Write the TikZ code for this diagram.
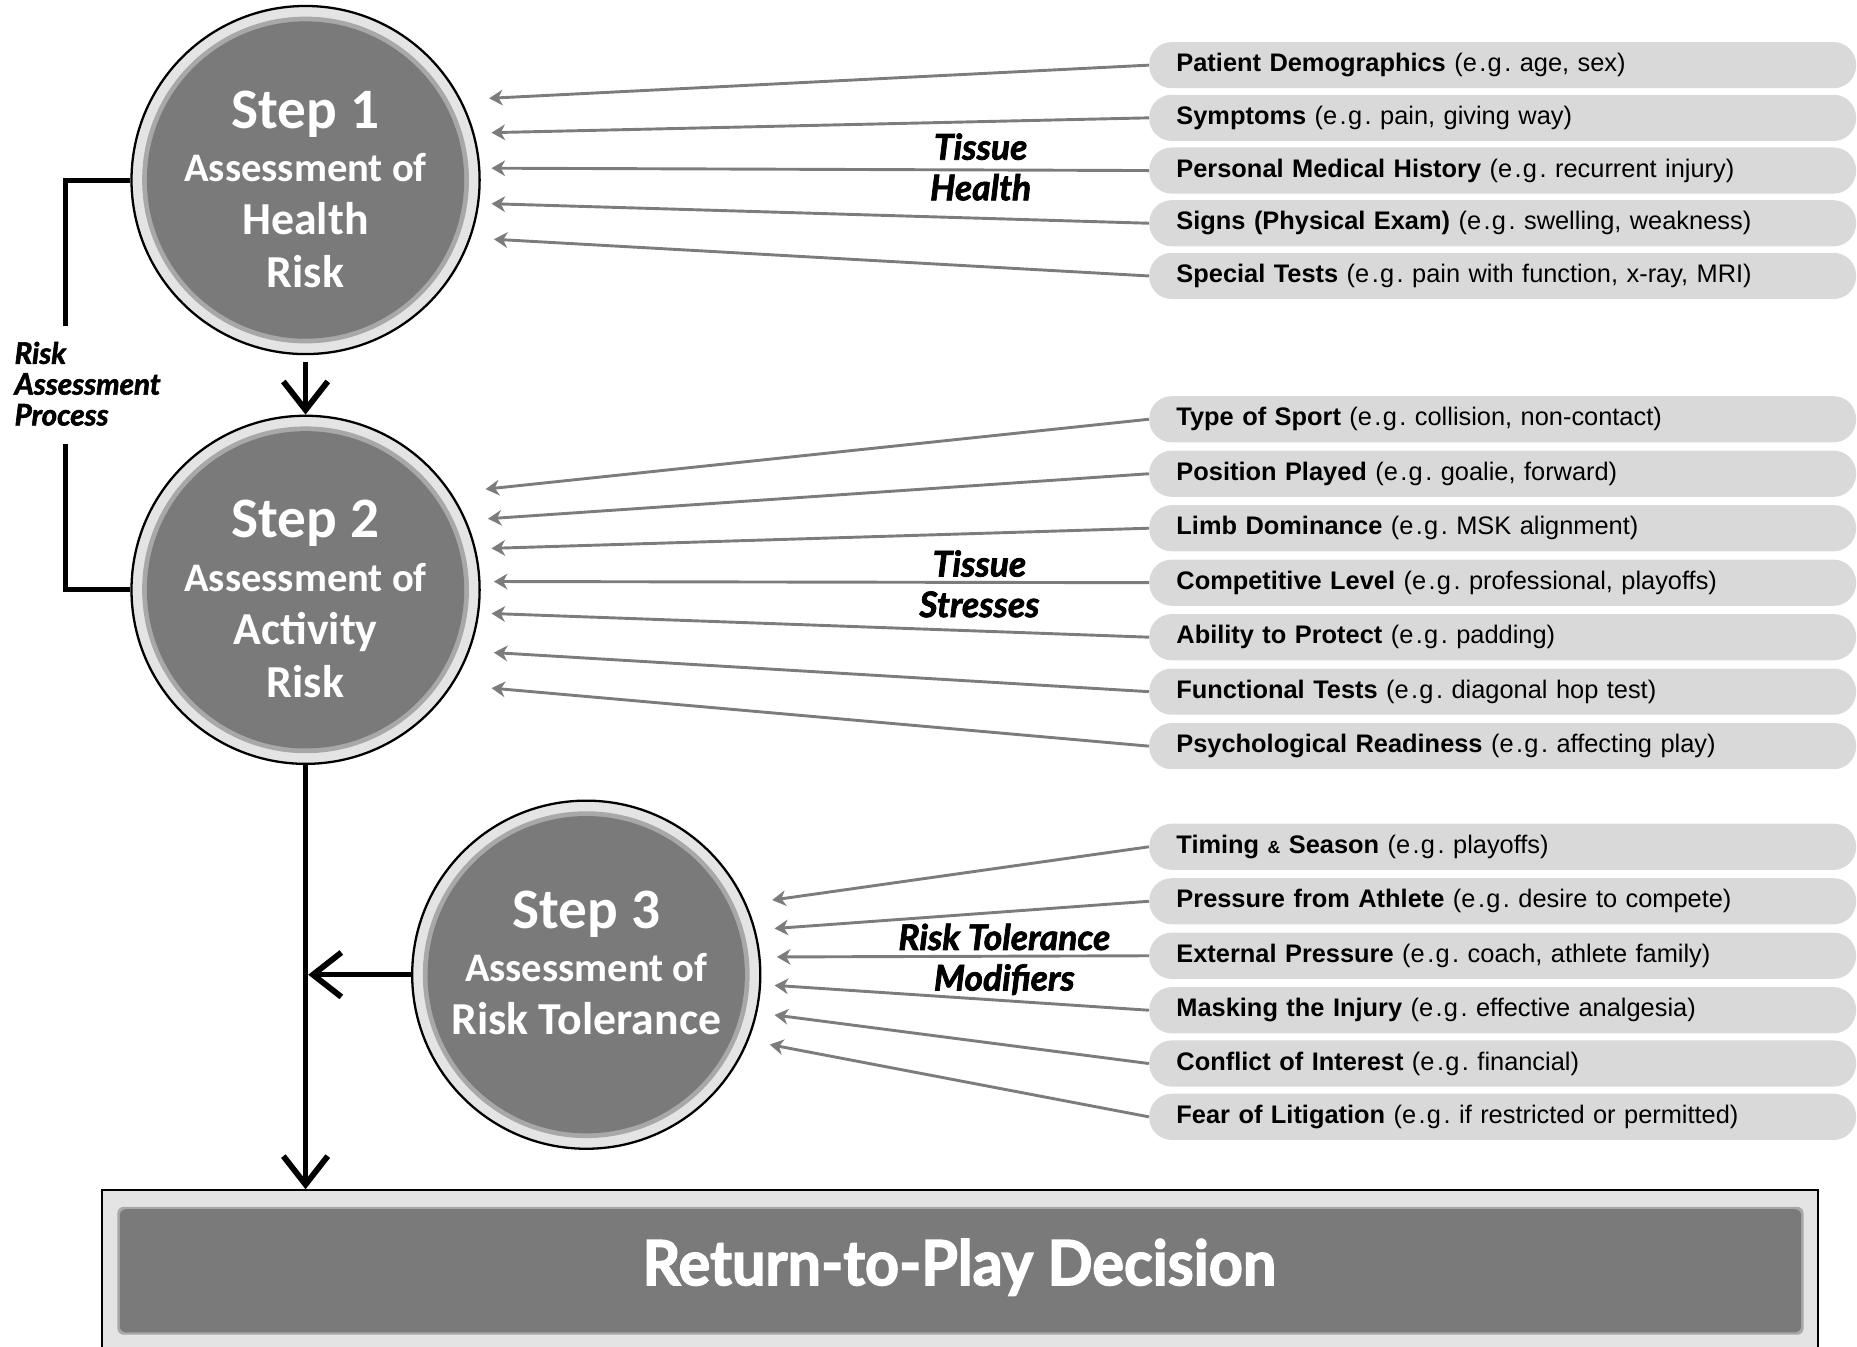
\documentclass[tikz,border=0pt]{standalone}
\usepackage{fontspec}
\setmainfont{Liberation Sans}
\newfontfamily\circfont{Carlito}
\newfontfamily\itemfont{Liberation Sans}
\newfontfamily\tagfont[BoldItalicFeatures={FakeBold=2}]{Lato}
\newfontfamily\rtpfont[FakeStretch=0.95,BoldFeatures={FakeBold=2.2}]{Lato}
\usetikzlibrary{arrows.meta,calc}

\definecolor{stepgray}{HTML}{7A7A7A}
\definecolor{stepedge}{HTML}{A8A8A8}
\definecolor{ringgray}{HTML}{E4E4E4}
\definecolor{boxgray}{HTML}{D9D9D9}
\definecolor{feedgray}{HTML}{7C7C7C}

% spaced "e.g." of the factor lists
\newcommand{\egtext}{e\kern1.2pt.\kern0.6pt g\kern1.2pt.}

\begin{document}
\frenchspacing
\begin{tikzpicture}[x=0.02cm,y=-0.02cm,
  stepcirc/.style={circle, draw=black, line width=1.1pt, fill=ringgray,
    minimum size=5.88cm, inner sep=0pt,
    path picture={
      \fill[stepedge] (path picture bounding box.center) circle (2.76cm);
      \fill[stepgray] (path picture bounding box.center) circle (2.68cm);}},
  steptext/.style={text=white, align=center, inner sep=0pt,
    font=\circfont\bfseries\fontsize{22}{25.6}\selectfont},
  item/.style={anchor=west, fill=boxgray, rounded corners=0.38cm,
    minimum width=11.94cm, minimum height=0.78cm, inner xsep=0.46cm,
    inner ysep=0pt, text width=11.02cm, align=left,
    font=\itemfont\fontsize{12.2}{14}\selectfont},
  feed/.style={draw=feedgray, line width=1.4pt,
    -{Stealth[length=6.5pt,width=7.5pt,inset=2pt]}},
  flow/.style={draw=black, line width=2.6pt,
    -{Straight Barb[length=0.48cm,width=0.75cm,line width=2.8pt]}},
  bracket/.style={draw=black, line width=2.4pt},
  tag/.style={inner sep=0pt, align=center,
    font=\tagfont\bfseries\itshape\fontsize{17}{19.5}\selectfont},
  rtpbox/.style={draw=black, line width=1pt, fill=ringgray,
    minimum width=28.98cm, minimum height=2.7cm, inner sep=0pt,
    path picture={
      \fill[stepedge, rounded corners=3pt]
        ($(path picture bounding box.south west)+(0.26cm,0.26cm)$) rectangle
        ($(path picture bounding box.north east)+(-0.24cm,-0.28cm)$);
      \fill[stepgray, rounded corners=3pt]
        ($(path picture bounding box.south west)+(0.3cm,0.3cm)$) rectangle
        ($(path picture bounding box.north east)+(-0.28cm,-0.32cm)$);}}
]
\useasboundingbox (0,0) rectangle (1568,1137);

% ---- the three assessment steps ----
\node[stepcirc] (s1) at (258,152) {};
\node[stepcirc] (s2) at (258,498) {};
\node[stepcirc] (s3) at (495,823) {};

\node[steptext] (s1t) at (258,160)
  {{\fontsize{27.5}{25.6}\selectfont Step 1}\\
   {\fontsize{19.5}{25.6}\selectfont Assessment of}\\ Health\\ Risk};
\node[steptext] (s2t) at (258,506)
  {{\fontsize{27.5}{25.6}\selectfont Step 2}\\
   {\fontsize{19.5}{25.6}\selectfont Assessment of}\\ Activity\\ Risk};
\node[steptext] (s3t) at (495,813)
  {{\fontsize{27.5}{25.6}\selectfont Step 3}\\
   {\fontsize{19.5}{25.6}\selectfont Assessment of}\\ Risk Tolerance};

% ---- decision box ----
\node[rtpbox] (rtp) at (810.5,1072.5) {};
\node[text=white, inner sep=0pt, font=\rtpfont\bfseries\fontsize{30}{34}\selectfont]
  (rtpt) at (810,1070) {Return-to-Play Decision};

% ---- process flow ----
\draw[flow, shorten <=0.12cm] (s1.south) -- (s2.north);
\coordinate (j2) at (s2.south |- rtp.north);
\draw[flow] (s2.south) -- (j2);
\coordinate (j3) at (s2.south |- s3.west);
\draw[flow, shorten >=-1pt] (s3.west) -- ([xshift=0.08cm]j3);

\coordinate (bt) at (55,275);
\coordinate (bb) at (55,375);
\draw[bracket] (s1.west) -| (bt);
\draw[bracket] (bb) |- (s2.west);
\node[anchor=west, inner sep=0pt, align=left,
  font=\tagfont\bfseries\itshape\fontsize{14.2}{14.8}\selectfont]
  (rap) at (12,324) {Risk\\Assessment\\Process};

% ---- tissue health factors ----
\node[item] (h1) at (970,55)  {\textbf{Patient Demographics} (\egtext\ age, sex)};
\node[item] (h2) at (970,99.5){\textbf{Symptoms} (\egtext\ pain, giving way)};
\node[item] (h3) at (970,144) {\textbf{Personal Medical History} (\egtext\ recurrent injury)};
\node[item] (h4) at (970,188.5){\textbf{Signs (Physical Exam)} (\egtext\ swelling, weakness)};
\node[item] (h5) at (970,233) {\textbf{Special Tests} (\egtext\ pain with function, x-ray, MRI)};

\coordinate (th1) at (413,83);
\coordinate (th2) at (415,112);
\coordinate (th3) at (415,142);
\coordinate (th4) at (415,172);
\coordinate (th5) at (417,202);
\foreach \i in {1,...,5} \draw[feed] (h\i.west) -- (th\i);
\node[tag] (lh) at (828,141) {Tissue\\Health};

% ---- tissue stress factors ----
\node[item] (a1) at (970,354) {\textbf{Type of Sport} (\egtext\ collision, non-contact)};
\node[item] (a2) at (970,400) {\textbf{Position Played} (\egtext\ goalie, forward)};
\node[item] (a3) at (970,446) {\textbf{Limb Dominance} (\egtext\ MSK alignment)};
\node[item] (a4) at (970,492) {\textbf{Competitive Level} (\egtext\ professional, playoffs)};
\node[item] (a5) at (970,538) {\textbf{Ability to Protect} (\egtext\ padding)};
\node[item] (a6) at (970,584) {\textbf{Functional Tests} (\egtext\ diagonal hop test)};
\node[item] (a7) at (970,630) {\textbf{Psychological Readiness} (\egtext\ affecting play)};

\coordinate (ta1) at (410,413);
\coordinate (ta2) at (412,438);
\coordinate (ta3) at (415,463);
\coordinate (ta4) at (417,491);
\coordinate (ta5) at (415,518);
\coordinate (ta6) at (417,551);
\coordinate (ta7) at (415,581);
\foreach \i in {1,...,7} \draw[feed] (a\i.west) -- (ta\i);
\node[tag] (la) at (827,493) {Tissue\\Stresses};

% ---- risk tolerance modifiers ----
\node[item] (m1) at (970,715) {\textbf{Timing {\fontsize{8.5}{10}\selectfont\&} Season} (\egtext\ playoffs)};
\node[item] (m2) at (970,761) {\textbf{Pressure from Athlete} (\egtext\ desire to compete)};
\node[item] (m3) at (970,807) {\textbf{External Pressure} (\egtext\ coach, athlete family)};
\node[item] (m4) at (970,853) {\textbf{Masking the Injury} (\egtext\ effective analgesia)};
\node[item] (m5) at (970,898) {\textbf{Conflict of Interest} (\egtext\ financial)};
\node[item] (m6) at (970,943) {\textbf{Fear of Litigation} (\egtext\ if restricted or permitted)};

\coordinate (tm1) at (652,760);
\coordinate (tm2) at (654,784);
\coordinate (tm3) at (656,808);
\coordinate (tm4) at (654,832);
\coordinate (tm5) at (654,857);
\coordinate (tm6) at (650,882);
\foreach \i in {1,...,6} \draw[feed] (m\i.west) -- (tm\i);
\node[tag] (lm) at (848,810) {Risk Tolerance\\Modifiers};
\end{tikzpicture}
\end{document}
